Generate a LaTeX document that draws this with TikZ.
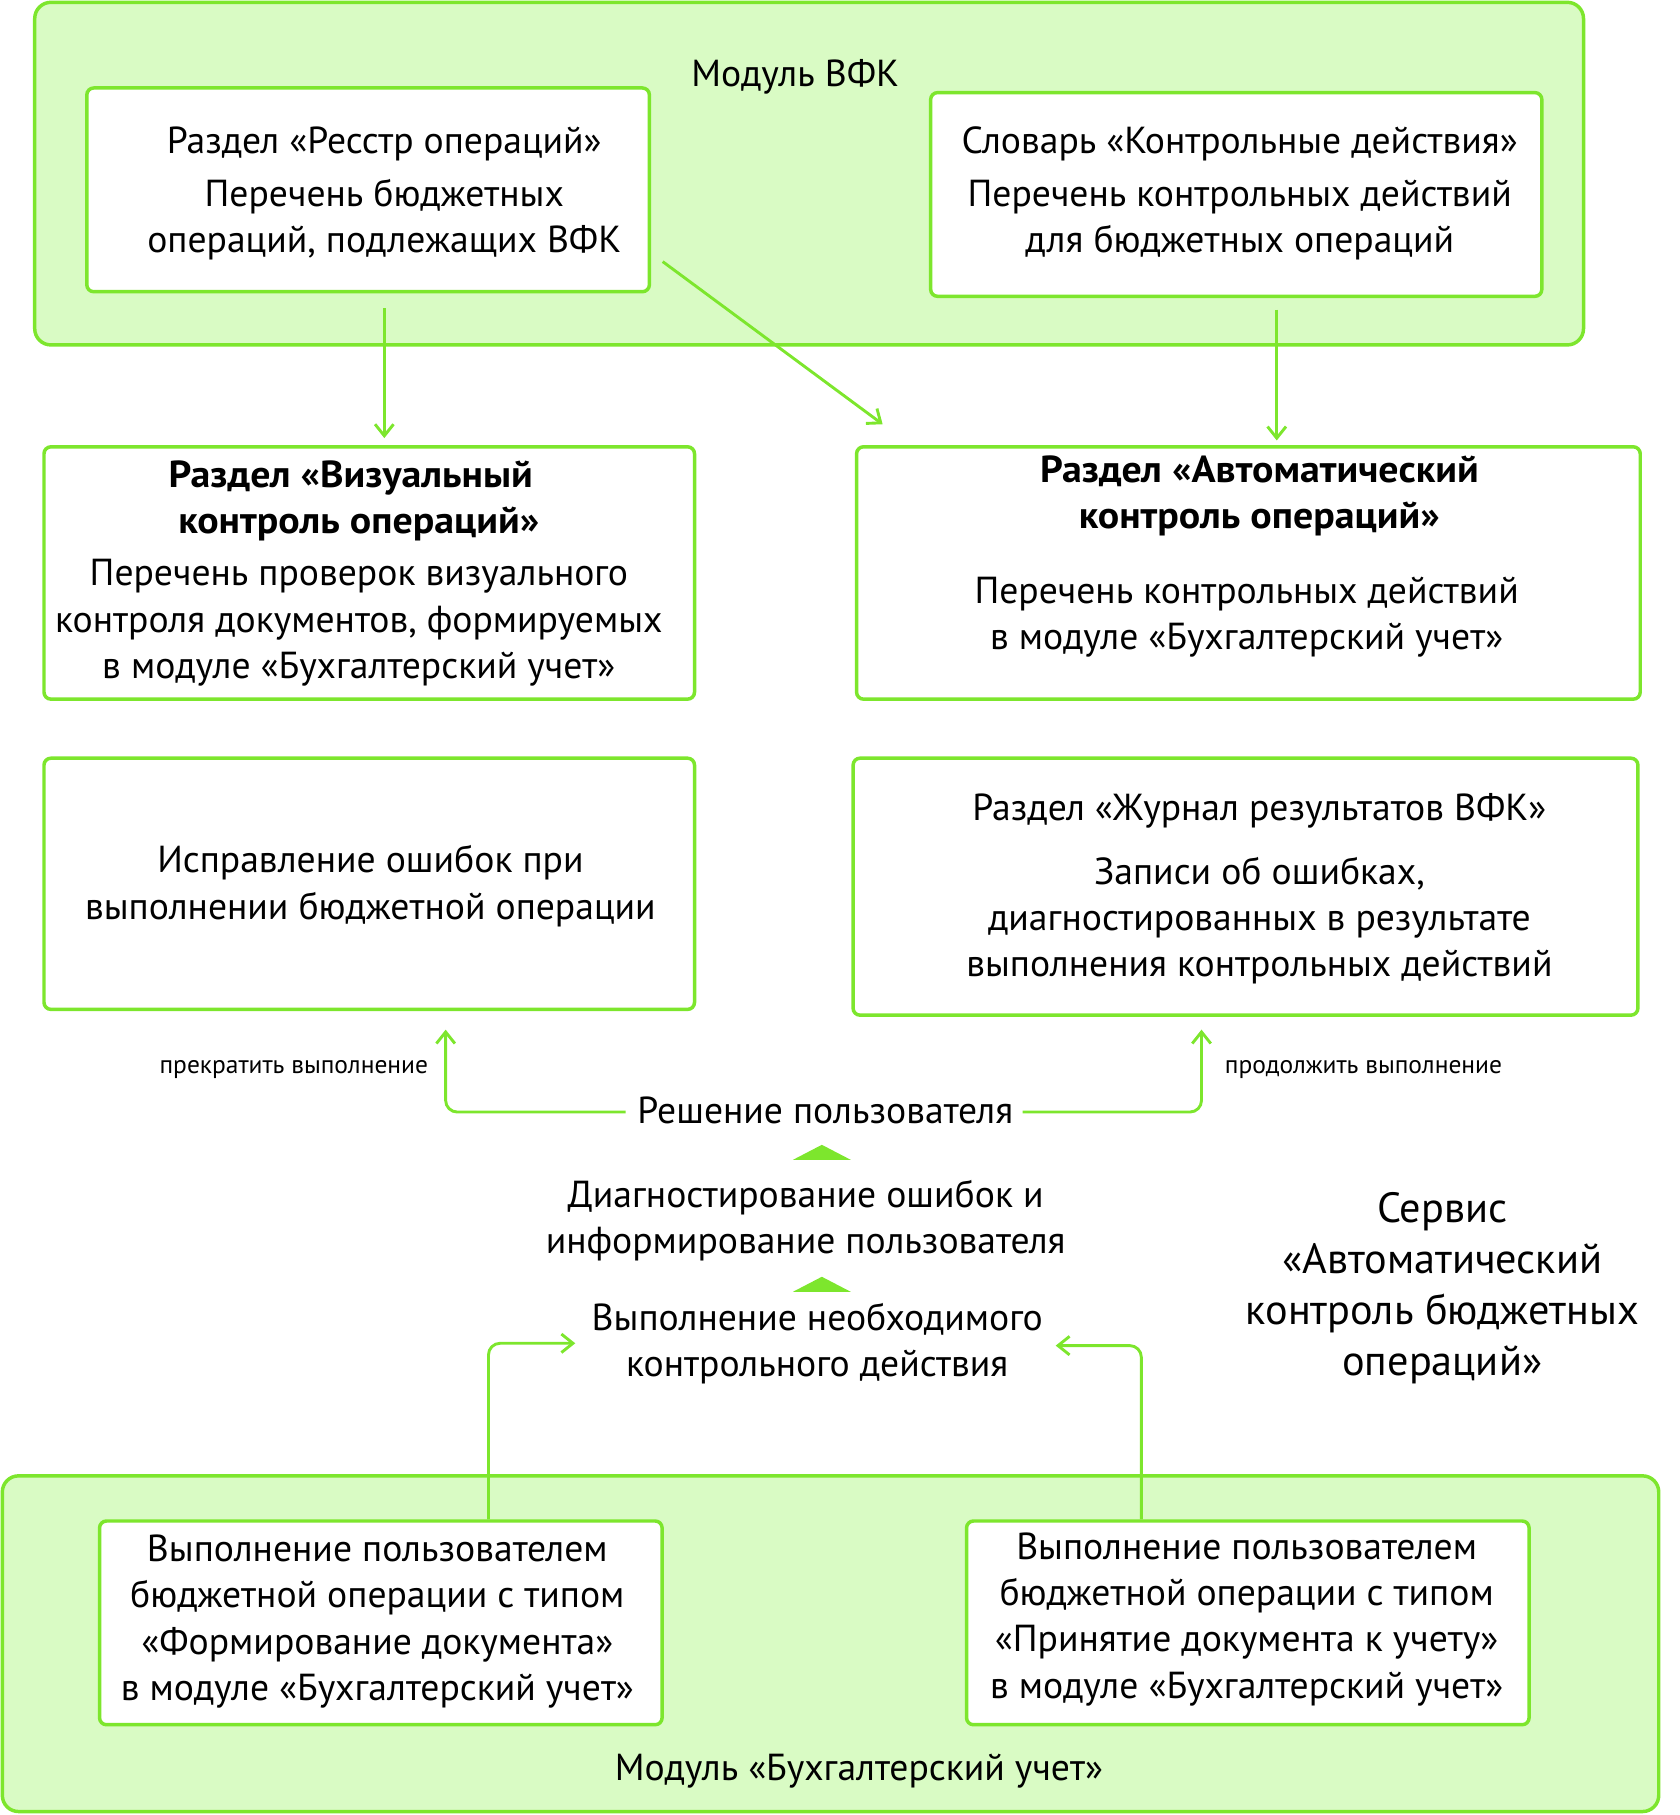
\documentclass[tikz,border=0pt]{standalone}
\usepackage{fontspec}
\setmainfont{PT Sans}[BoldFeatures={FakeStretch=1.06}]
\usetikzlibrary{arrows.meta,calc}
\definecolor{gline}{RGB}{125,230,45}
\definecolor{gfill}{RGB}{217,251,196}
\tikzset{
  outerbox/.style={draw=gline, fill=gfill, line width=3pt, rounded corners=14pt, inner sep=0pt},
  wbox/.style={draw=gline, fill=white, line width=3pt, rounded corners=6pt, inner sep=0pt},
  txt/.style={align=center, inner sep=0pt, anchor=base, font=\fontsize{32.5}{40}\selectfont},
  bigtxt/.style={align=center, inner sep=0pt, anchor=base, font=\fontsize{36.5}{44}\selectfont},
  smalltxt/.style={inner sep=0pt, anchor=base, font=\fontsize{22}{26}\selectfont},
  arr/.style={draw=gline, line width=2.5pt, -{Straight Barb[length=10pt,width=16pt,line width=2.5pt]}},
  tri/.style={fill=gline, draw=none}
}
\begin{document}
\begin{tikzpicture}[x=1pt,y=-1pt]
\useasboundingbox (0,0) rectangle (1451,1568);
% outer containers
\node[outerbox, minimum width=1338pt, minimum height=296pt] (vfk) at (699,150) {};
\node[outerbox, minimum width=1431pt, minimum height=290pt] (buh) at (717.5,1420) {};
\node[txt] (vfkt) at (687,75) {Модуль ВФК};
\node[txt] (buht) at (742,1538) {Модуль «Бухгалтерский учет»};
% boxes
\node[wbox, minimum width=486pt, minimum height=176pt] (A) at (318,164) {};
\node[wbox, minimum width=528pt, minimum height=176pt] (B) at (1068,168) {};
\node[wbox, minimum width=562pt, minimum height=218pt] (C) at (319,495) {};
\node[wbox, minimum width=677pt, minimum height=218pt] (D) at (1078.5,495) {};
\node[wbox, minimum width=562pt, minimum height=217pt] (E) at (319,763.5) {};
\node[wbox, minimum width=678pt, minimum height=222pt] (F) at (1076,766) {};
\node[wbox, minimum width=486pt, minimum height=176pt] (G) at (329,1402) {};
\node[wbox, minimum width=486pt, minimum height=176pt] (H) at (1078,1402) {};
% texts in boxes
\node[txt] (At) at (332,218) {Раздел «Ресстр операций»\\[5pt]Перечень бюджетных\\операций, подлежащих ВФК};
\node[txt] (Bt) at (1071,218) {Словарь «Контрольные действия»\\[5pt]Перечень контрольных действий\\для бюджетных операций};
\node[txt] (Ct) at (310,586) {\textbf{Раздел «Визуальный}\hspace*{14pt}\\\textbf{контроль операций»}\hspace*{14pt}\\[5pt]Перечень проверок визуального\\контроля документов, формируемых\\в модуле «Бухгалтерский учет»};
\node[txt] (Dt) at (1077,561) {\hspace*{22pt}\textbf{Раздел «Автоматический}\\\hspace*{22pt}\textbf{контроль операций»}\\[24pt]Перечень контрольных действий\\в модуле «Бухгалтерский учет»};
\node[txt] (Et) at (320,794) {Исправление ошибок при\\выполнении бюджетной операции};
\node[txt] (Ft) at (1088,844) {Раздел «Журнал результатов ВФК»\\[15pt]Записи об ошибках,\\диагностированных в результате\\выполнения контрольных действий};
\node[txt] (Gt) at (326,1469) {Выполнение пользователем\\бюджетной операции с типом\\«Формирование документа»\\в модуле «Бухгалтерский учет»};
\node[txt] (Ht) at (1077,1467) {Выполнение пользователем\\бюджетной операции с типом\\«Принятие документа к учету»\\в модуле «Бухгалтерский учет»};
% middle flow
\node[txt] (R) at (713,971) {Решение пользователя};
\node[txt] (Dg) at (696,1083) {Диагностирование ошибок и\\информирование пользователя};
\node[txt] (X) at (706,1189) {Выполнение необходимого\\контрольного действия};
\node[bigtxt] (S) at (1246,1188) {Сервис\\«Автоматический\\контроль бюджетных\\операций»};
\node[smalltxt, anchor=base east] (stop) at (370,927) {прекратить выполнение};
\node[smalltxt, anchor=base west] (cont) at (1058,927) {продолжить выполнение};
% triangles
\fill[tri] (685,1002) -- (710,989) -- (735,1002) -- cycle;
\fill[tri] (685,1116) -- (710,1103) -- (735,1116) -- cycle;
% connectors
\draw[arr, shorten >=6pt, shorten <=13pt] ([xshift=14pt]A.south) -- ([xshift=13pt]C.north);
\draw[arr, shorten >=4pt, shorten <=10pt] ([xshift=35pt]B.south) -- ([xshift=24.5pt]D.north);
\draw[arr] ([xshift=10pt,yshift=-62pt]A.east) -- ([xshift=24pt,yshift=18pt]D.north west);
\draw[arr, rounded corners=10pt] ([xshift=-10pt,yshift=-1pt]R.west) -| ([xshift=66pt,yshift=-16pt]E.south);
\draw[arr, rounded corners=10pt] ([xshift=8pt,yshift=-1pt]R.east) -| ([xshift=-38pt,yshift=-11pt]F.south);
\draw[arr, rounded corners=10pt] ([xshift=93pt]G.north) |- ([xshift=-14pt,yshift=0pt]X.west);
\draw[arr, rounded corners=10pt] ([xshift=-92pt]H.north) |- ([xshift=11pt,yshift=-2pt]X.east);
\end{tikzpicture}
\end{document}
